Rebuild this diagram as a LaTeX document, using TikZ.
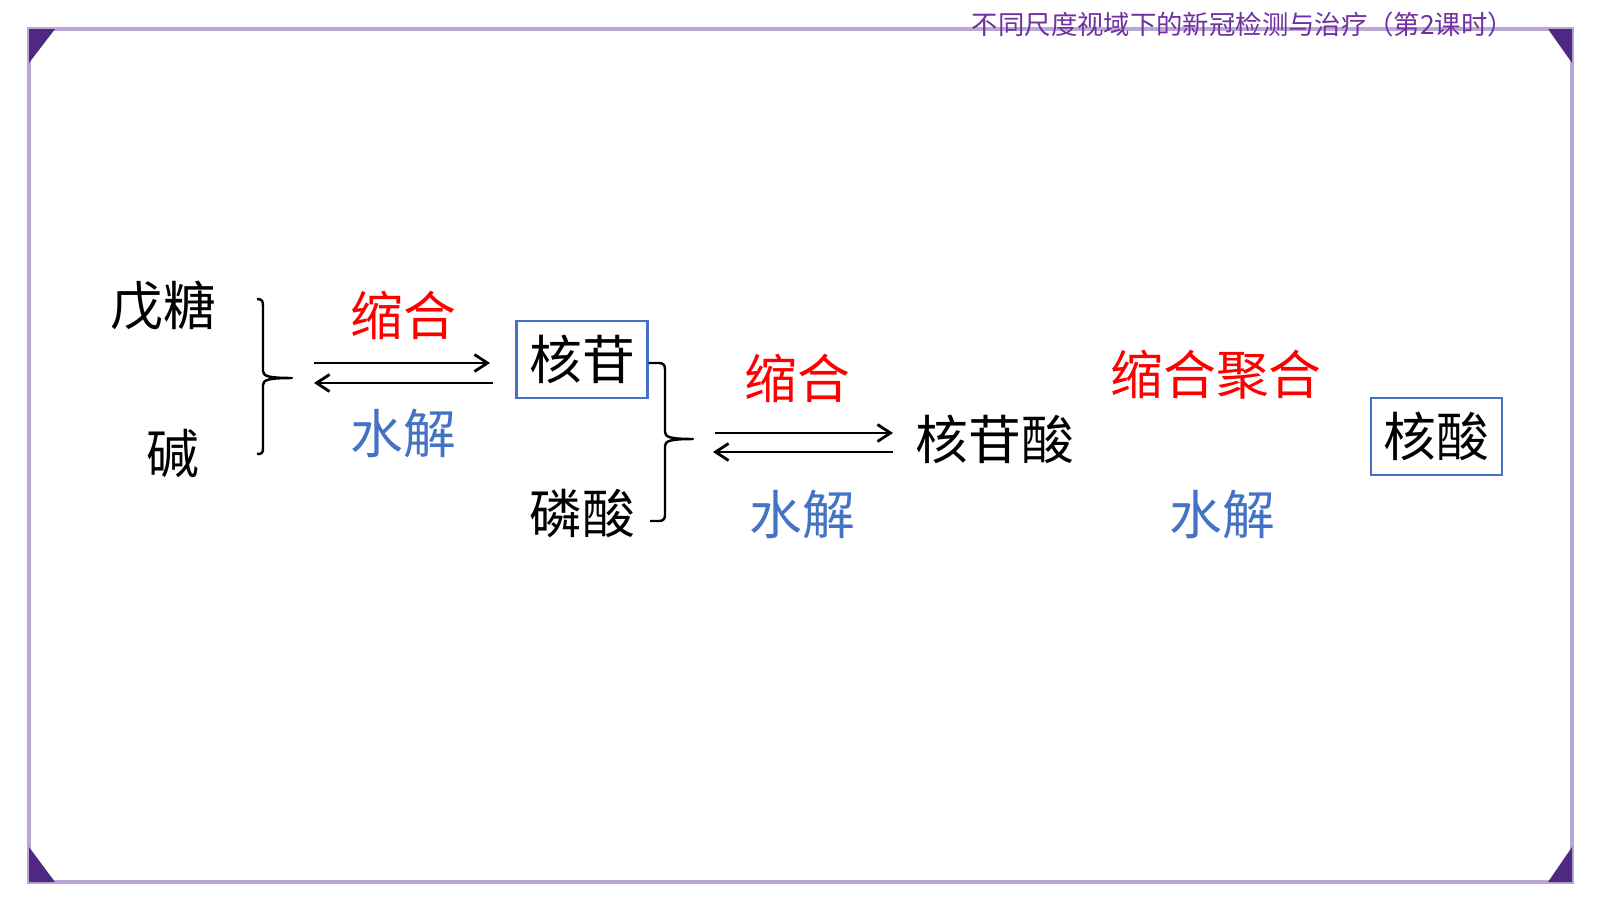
\documentclass[tikz,border=0pt]{standalone}
\usepackage{fontspec}
\newfontfamily\cjk{Noto Sans CJK SC}
\usetikzlibrary{arrows.meta}
\definecolor{framec}{RGB}{186,168,212}
\definecolor{cornerc}{RGB}{78,40,130}
\definecolor{titlec}{RGB}{112,48,160}
\definecolor{redc}{RGB}{255,0,0}
\definecolor{bluec}{RGB}{68,114,196}
\tikzset{
  big/.style={font=\cjk\fontsize{15}{15}\selectfont, inner sep=0pt},
  redlab/.style={big, text=redc},
  bluelab/.style={big, text=bluec},
  boxed/.style={big, draw=bluec, line width=0.6pt, minimum width=1.31cm, minimum height=0.77cm},
  rarrow/.style={line width=0.75pt, -{Straight Barb[length=1.3mm,width=1.7mm,line width=0.8pt]}},
  bracec/.style={line width=0.7pt, line join=round},
  corner/.style={fill=cornerc, draw=none}
}
\begin{document}
\begin{tikzpicture}[x=0.01cm,y=-0.01cm]
\useasboundingbox (0,0) rectangle (1600,900);
% frame
\draw[framec, line width=0.9pt] (29,29) rectangle (1572,882);
\fill[corner] (29,29) -- (55,29) -- (29,63) -- cycle;
\fill[corner] (1572,29) -- (1548,29) -- (1572,63) -- cycle;
\fill[corner] (29,882) -- (55,882) -- (29,847) -- cycle;
\fill[corner] (1572,882) -- (1548,882) -- (1572,847) -- cycle;
\node[font=\cjk\fontsize{7.5}{8}\selectfont, text=titlec, inner sep=0pt] (title) at (1243,24) {不同尺度视域下的新冠检测与治疗（第2课时）};
% left part
\node[big] (wutang) at (163,306) {戊糖};
\node[big] (jian) at (173,454) {碱};
\draw[bracec] (257,299) .. controls (262,299) and (263,301) .. (263,306) -- (263,371)
  .. controls (263,376) and (268,378) .. (292,378)
  .. controls (268,378) and (263,380) .. (263,385) -- (263,448)
  .. controls (263,453) and (262,454) .. (257,454);
\coordinate (a1s) at (314,363); \coordinate (a1e) at (490,363);
\coordinate (b1s) at (493,383); \coordinate (b1e) at (314,383);
\draw[rarrow] (a1s) -- (a1e);
\draw[rarrow] (b1s) -- (b1e);
\node[redlab] (suohe1) at (403,315) {缩合};
\node[bluelab] (shuijie1) at (403,434) {水解};
\node[boxed] (hegan) at (582,359.5) {核苷};
\node[big] (linsuan) at (582,514) {磷酸};
% second brace
\draw[bracec] (hegan.east |- 0,363) -- (659,363) .. controls (663,363) and (665,365) .. (665,369) -- (665,432)
  .. controls (665,437) and (670,439) .. (693,439)
  .. controls (670,439) and (665,441) .. (665,446) -- (665,515)
  .. controls (665,519) and (663,521) .. (659,521) -- (650,521);
\coordinate (a2s) at (715,433); \coordinate (a2e) at (893,433);
\coordinate (b2s) at (893,452); \coordinate (b2e) at (713,452);
\draw[rarrow] (a2s) -- (a2e);
\draw[rarrow] (b2s) -- (b2e);
\node[redlab] (suohe2) at (797,378) {缩合};
\node[bluelab] (shuijie2) at (802,515) {水解};
\node[big] (hegansuan) at (995,439) {核苷酸};
% right part
\node[redlab] (suoheju) at (1216,375) {缩合聚合};
\node[bluelab] (shuijie3) at (1222,515) {水解};
\node[boxed] (hesuan) at (1436.5,436.5) {核酸};
\end{tikzpicture}
\end{document}
